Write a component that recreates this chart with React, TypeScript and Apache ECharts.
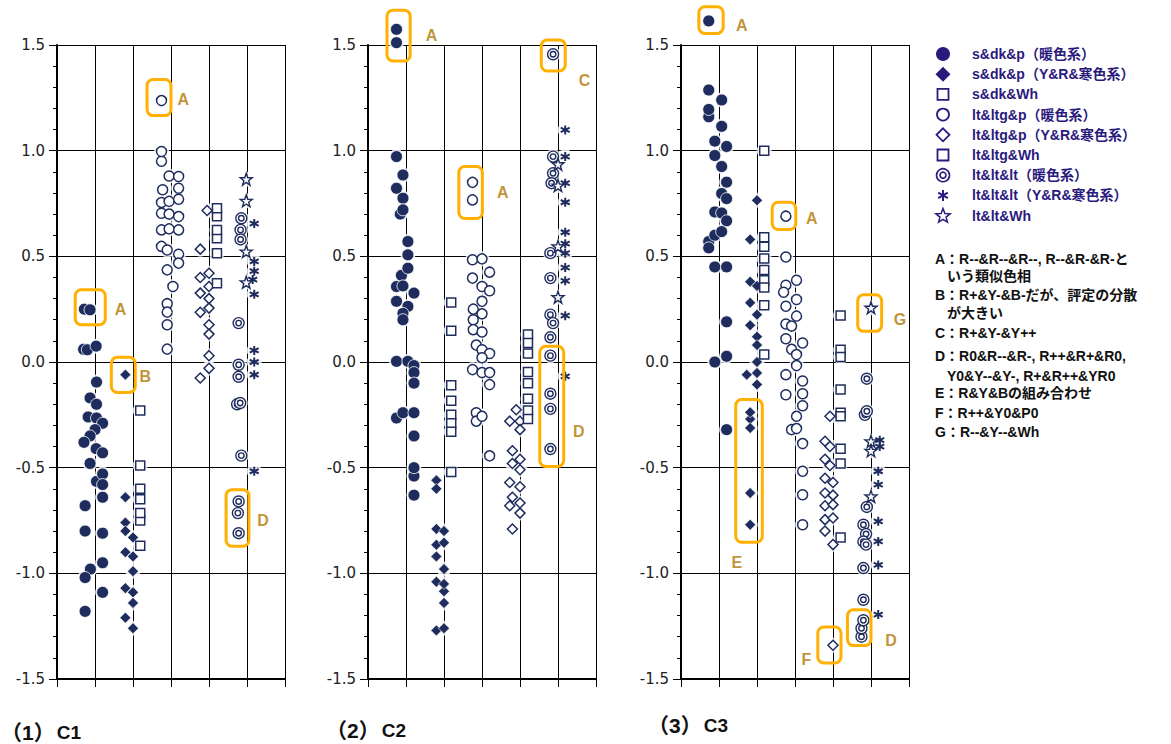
import React, { useEffect, useRef } from 'react';
import * as echarts from 'echarts';

// ---------- data (x = column position incl. jitter, y = score) ----------
// Panel (1) C1
const p1FilledCircle = [[0.72,0.25],[0.87,0.247],[0.7,0.06],[0.8,0.058],[1.03,0.075],[1.04,-0.095],[0.87,-0.17],[1.04,-0.2],[0.82,-0.26],[1.04,-0.265],[1.2,-0.29],[1.0,-0.32],[0.87,-0.35],[0.71,-0.38],[1.03,-0.41],[1.2,-0.43],[0.87,-0.48],[1.04,-0.565],[1.2,-0.53],[1.2,-0.58],[1.2,-0.64],[0.74,-0.68],[0.74,-0.8],[1.2,-0.81],[1.2,-0.95],[0.88,-0.98],[0.74,-1.02],[1.2,-1.09],[0.74,-1.18]];
const p1FilledDiamond = [[1.8,-0.06],[1.8,-0.64],[1.8,-0.76],[1.8,-0.8],[2.0,-0.83],[1.8,-0.9],[2.0,-0.92],[2.0,-0.99],[1.8,-1.07],[2.0,-1.09],[2.0,-1.14],[1.8,-1.21],[2.0,-1.26]];
const p1DarkWh = [[2.19,-0.23],[2.19,-0.49],[2.19,-0.6],[2.19,-0.75],[2.19,-0.65],[2.19,-0.715],[2.19,-0.87]];
const p1OpenCircle = [[2.75,1.237],[2.75,0.95],[2.75,0.996],[2.95,0.88],[3.2,0.878],[2.78,0.815],[3.2,0.822],[2.75,0.755],[2.95,0.76],[3.2,0.77],[2.75,0.704],[2.95,0.7],[3.2,0.688],[2.75,0.625],[2.95,0.63],[3.2,0.625],[2.75,0.547],[2.9,0.53],[3.2,0.51],[3.2,0.468],[2.9,0.436],[3.05,0.357],[2.9,0.276],[2.9,0.236],[2.9,0.176],[2.9,0.061]];
const p1OpenDiamond = [[3.95,0.717],[3.77,0.534],[3.77,0.4],[4.0,0.42],[3.77,0.326],[4.0,0.357],[4.0,0.3],[3.77,0.235],[4.0,0.255],[4.0,0.176],[4.0,0.132],[4.0,0.03],[4.0,-0.03],[3.77,-0.076]];
const p1LtgWh = [[4.21,0.69],[4.21,0.728],[4.21,0.585],[4.21,0.625],[4.21,0.515],[4.21,0.373]];
const p1Double = [[4.85,0.68],[4.83,0.625],[4.83,0.58],[4.78,0.184],[4.78,-0.013],[4.78,-0.07],[4.74,-0.2],[4.82,-0.194],[4.85,-0.443],[4.76,-0.715],[4.78,-0.66],[4.78,-0.81]];
const p1Asterisk = [[5.19,0.655],[5.19,0.476],[5.19,0.43],[5.15,0.39],[5.19,0.32],[5.19,0.055],[5.19,0.0],[5.19,-0.06],[5.19,-0.517]];
const p1Star = [[4.98,0.865],[4.98,0.763],[4.98,0.523],[4.98,0.377]];

// Panel (2) C2
const p2FilledCircle = [[0.75,1.574],[0.75,1.511],[0.75,0.972],[0.92,0.885],[0.75,0.822],[0.92,0.775],[0.85,0.7],[0.92,0.72],[1.05,0.57],[1.05,0.507],[0.88,0.41],[1.05,0.444],[0.75,0.357],[0.92,0.36],[1.21,0.326],[0.75,0.287],[1.05,0.263],[0.92,0.23],[0.92,0.2],[0.75,0.003],[1.05,0.003],[1.21,-0.017],[1.21,-0.05],[1.21,-0.1],[0.75,-0.265],[0.92,-0.24],[1.21,-0.24],[1.21,-0.35],[1.21,-0.54],[1.21,-0.5],[1.21,-0.63]];
const p2FilledDiamond = [[1.8,-0.56],[1.8,-0.6],[1.8,-0.79],[2.0,-0.8],[1.8,-0.865],[2.0,-0.855],[1.8,-0.92],[2.0,-0.98],[1.8,-1.04],[2.0,-1.085],[2.0,-1.05],[2.0,-1.14],[1.8,-1.27],[2.0,-1.26]];
const p2DarkWh = [[2.19,0.282],[2.19,0.148],[2.19,-0.11],[2.19,-0.183],[2.19,-0.25],[2.19,-0.29],[2.19,-0.33],[2.19,-0.52]];
const p2OpenCircle = [[2.75,0.85],[2.75,0.767],[2.75,0.484],[3.0,0.488],[2.75,0.397],[3.2,0.425],[3.0,0.357],[3.2,0.337],[2.77,0.25],[3.0,0.287],[2.77,0.2],[3.0,0.228],[2.77,0.153],[3.0,0.142],[2.85,0.08],[3.0,0.058],[3.2,0.04],[3.0,0.02],[2.75,-0.036],[3.0,-0.05],[3.2,-0.05],[3.2,-0.107],[2.85,-0.24],[2.85,-0.28],[3.0,-0.257],[3.2,-0.444]];
const p2OpenDiamond = [[3.9,-0.226],[3.73,-0.28],[4.0,-0.28],[4.0,-0.32],[3.8,-0.42],[4.0,-0.46],[3.8,-0.48],[4.0,-0.51],[3.73,-0.57],[4.0,-0.59],[3.8,-0.64],[4.0,-0.667],[3.73,-0.68],[4.0,-0.715],[3.8,-0.79]];
const p2LtgWh = [[4.21,0.13],[4.21,0.09],[4.21,0.04],[4.21,-0.047],[4.21,-0.1],[4.21,-0.174],[4.21,-0.23],[4.21,-0.27]];
const p2Double = [[4.87,1.456],[4.87,0.972],[4.87,0.893],[4.83,0.846],[4.8,0.515],[4.8,0.397],[4.8,0.224],[4.87,0.184],[4.8,0.117],[4.8,0.03],[4.8,-0.15],[4.8,-0.222],[4.8,-0.412]];
const p2Asterisk = [[5.19,1.098],[5.19,0.972],[5.19,0.846],[5.19,0.756],[5.19,0.614],[5.19,0.56],[5.19,0.515],[5.19,0.447],[5.19,0.384],[5.19,0.219],[5.19,-0.068]];
const p2Star = [[5.0,0.936],[5.0,0.835],[5.0,0.547],[5.0,0.307]];

// Panel (3) C3
const p3FilledCircle = [[0.73,1.614],[0.73,1.287],[1.07,1.24],[0.73,1.16],[0.73,1.195],[1.07,1.115],[0.89,1.045],[1.2,1.02],[0.89,0.977],[1.07,0.925],[1.2,0.851],[1.07,0.797],[1.2,0.773],[0.89,0.71],[1.07,0.705],[1.2,0.668],[0.73,0.57],[0.89,0.6],[1.07,0.617],[0.73,0.54],[0.89,0.45],[1.2,0.45],[1.2,0.19],[1.2,0.027],[0.89,0.0],[1.2,-0.32]];
const p3FilledDiamond = [[2.0,0.765],[1.82,0.58],[1.82,0.38],[2.0,0.36],[1.82,0.28],[2.0,0.224],[1.82,0.174],[2.0,0.12],[2.0,0.08],[2.0,0.0],[1.73,-0.06],[2.0,-0.052],[2.0,-0.107],[1.82,-0.27],[1.82,-0.238],[1.82,-0.312],[1.82,-0.62],[1.82,-0.77]];
const p3DarkWh = [[2.19,1.0],[2.19,0.59],[2.19,0.545],[2.19,0.435],[2.19,0.49],[2.19,0.387],[2.19,0.352],[2.19,0.268],[2.19,0.036]];
const p3OpenCircle = [[2.76,0.69],[2.76,0.497],[2.76,0.363],[3.04,0.387],[2.7,0.33],[2.76,0.264],[3.04,0.296],[2.76,0.18],[2.91,0.17],[3.04,0.217],[2.76,0.11],[2.91,0.06],[3.2,0.09],[3.04,0.035],[2.76,-0.06],[3.04,-0.017],[2.76,-0.155],[3.2,-0.09],[3.2,-0.15],[3.2,-0.207],[2.91,-0.32],[3.04,-0.257],[3.04,-0.315],[3.2,-0.386],[3.2,-0.517],[3.2,-0.628],[3.2,-0.77]];
const p3OpenDiamond = [[3.92,-0.257],[3.79,-0.375],[3.92,-0.4],[3.79,-0.46],[3.92,-0.49],[3.79,-0.55],[4.0,-0.57],[3.79,-0.62],[4.0,-0.63],[3.79,-0.68],[4.0,-0.675],[3.79,-0.746],[4.0,-0.738],[3.79,-0.8],[4.0,-0.864],[4.0,-1.34]];
const p3LtgWh = [[4.2,0.22],[4.2,0.058],[4.2,0.024],[4.2,-0.13],[4.2,-0.24],[4.2,-0.257],[4.2,-0.41],[4.2,-0.48],[4.2,-0.83]];
const p3Double = [[4.89,-0.079],[4.84,-0.25],[4.89,-0.233],[4.89,-0.686],[4.8,-0.77],[4.87,-0.814],[4.8,-0.85],[4.87,-0.864],[4.8,-0.975],[4.8,-1.125],[4.75,-1.3],[4.75,-1.26],[4.8,-1.222]];
const p3Asterisk = [[5.23,-0.37],[5.23,-0.4],[5.19,-0.517],[5.19,-0.58],[5.19,-0.754],[5.19,-0.849],[5.19,-0.96],[5.19,-1.195]];
const p3Star = [[5.0,0.257],[5.0,-0.375],[5.0,-0.42],[5.0,-0.636]];

// annotation boxes [x1, yTop, x2, yBottom] and their letters [letter, x, y]
const p1Boxes = [[2.37,1.337,3.0,1.166],[0.48,0.342,1.27,0.176],[1.43,0.022,2.06,-0.144],[4.45,-0.604,5.05,-0.872]];
const p1Letters = [['A',3.32,1.24],['A',1.67,0.247],['B',2.32,-0.068],['D',5.42,-0.75]];
const p2Boxes = [[0.5,1.665,1.11,1.424],[2.39,0.925,3.01,0.679],[4.56,1.524,5.19,1.377],[4.52,0.074,5.15,-0.494]];
const p2Letters = [['A',1.67,1.547],['A',3.55,0.8],['C',5.7,1.33],['D',5.55,-0.328]];
const p3Boxes = [[0.47,1.681,1.11,1.555],[2.4,0.756,3.02,0.627],[4.65,0.318,5.28,0.145],[1.44,-0.178,2.14,-0.853],[3.6,-1.254,4.21,-1.424],[4.38,-1.172,5.0,-1.342]];
const p3Letters = [['A',1.6,1.59],['A',3.44,0.678],['G',5.76,0.2],['E',1.47,-0.95],['F',3.3,-1.41],['D',5.53,-1.317]];

const panelNumbers = ['（1）', '（2）', '（3）'];
const panelNames = ['C1', 'C2', 'C3'];
const legendLabels = ['s&dk&p（暖色系）','s&dk&p（Y&R&寒色系）','s&dk&Wh','lt&ltg&p（暖色系）','lt&ltg&p（Y&R&寒色系）','lt&ltg&Wh','lt&lt&lt（暖色系）','lt&lt&lt（Y&R&寒色系）','lt&lt&Wh'];
const noteLines = [
  ['A：R--&R--&R--, R--&R-&R-と', false],
  ['いう類似色相', true],
  ['B：R+&Y-&B-だが、評定の分散', false],
  ['が大きい', true],
  ['C：R+&Y-&Y++', false],
  ['D：R0&R--&R-, R++&R+&R0,', false],
  ['Y0&Y--&Y-, R+&R++&YR0', true],
  ['E：R&Y&Bの組み合わせ', false],
  ['F：R++&Y0&P0', false],
  ['G：R--&Y--&Wh', false],
];

const yMin = -1.5, yMax = 1.5, yStep = 0.5;
const xMin = 0, xMax = 6, xStep = 1;

// ---------- styles ----------
const NAVY = '#1f2d5e';
const LEG = '#2b1a7d';
const ORANGE = '#ffb000';
const LETTER = '#b07800';
const FAMILY = '"Liberation Sans", "Noto Sans CJK JP", sans-serif';

const DOUBLE_PATH = 'path://M0,10A10,10 0 1,1 20,10A10,10 0 1,1 0,10ZM5,10A5,5 0 1,1 15,10A5,5 0 1,1 5,10Z';
const AST_PATH = 'path://M5,0L5,10M0.67,2.5L9.33,7.5M0.67,7.5L9.33,2.5';
const STAR_PATH = 'path://M50,2L61.8,36L97.6,36.6L69,58.2L79.4,92.4L50,72L20.6,92.4L31,58.2L2.4,36.6L38.2,36Z';

const markerDefs = [
  { key: 'fc', symbol: 'circle', size: 12, color: NAVY, border: '#ffffff', bw: 0.8 },
  { key: 'fd', symbol: 'diamond', size: 11, color: NAVY, border: '#ffffff', bw: 0.6 },
  { key: 'dw', symbol: 'rect', size: 9, color: '#ffffff', border: NAVY, bw: 1.5 },
  { key: 'oc', symbol: 'circle', size: 10, color: '#ffffff', border: NAVY, bw: 1.5 },
  { key: 'od', symbol: 'diamond', size: 10, color: '#ffffff', border: NAVY, bw: 1.5 },
  { key: 'lw', symbol: 'rect', size: 9, color: '#ffffff', border: NAVY, bw: 1.5 },
  { key: 'dc', symbol: DOUBLE_PATH, size: 11, color: '#ffffff', border: NAVY, bw: 1.4 },
  { key: 'ast', symbol: AST_PATH, size: 9, color: NAVY, border: NAVY, bw: 2 },
  { key: 'star', symbol: STAR_PATH, size: 12, color: '#ffffff', border: NAVY, bw: 1.4 },
];

const panels = [
  { fc: p1FilledCircle, fd: p1FilledDiamond, dw: p1DarkWh, oc: p1OpenCircle, od: p1OpenDiamond, lw: p1LtgWh, dc: p1Double, ast: p1Asterisk, star: p1Star, boxes: p1Boxes, letters: p1Letters },
  { fc: p2FilledCircle, fd: p2FilledDiamond, dw: p2DarkWh, oc: p2OpenCircle, od: p2OpenDiamond, lw: p2LtgWh, dc: p2Double, ast: p2Asterisk, star: p2Star, boxes: p2Boxes, letters: p2Letters },
  { fc: p3FilledCircle, fd: p3FilledDiamond, dw: p3DarkWh, oc: p3OpenCircle, od: p3OpenDiamond, lw: p3LtgWh, dc: p3Double, ast: p3Asterisk, star: p3Star, boxes: p3Boxes, letters: p3Letters },
];

const gridLefts = [57, 368, 681];

function buildOption() {
  const grid: any[] = [];
  const xAxis: any[] = [];
  const yAxis: any[] = [];
  const series: any[] = [];
  panels.forEach((p: any, i) => {
    grid.push({ left: gridLefts[i], top: 45, width: 228, height: 634 });
    xAxis.push({
      type: 'value', gridIndex: i, min: xMin, max: xMax, interval: xStep,
      axisLine: { show: true, onZero: false, lineStyle: { color: '#000', width: 2 } },
      axisTick: { show: true, length: 8, lineStyle: { color: '#000', width: 1 } },
      axisLabel: { show: false },
      splitLine: { show: true, lineStyle: { color: '#000', width: 1 } },
    });
    yAxis.push({
      type: 'value', gridIndex: i, min: yMin, max: yMax, interval: yStep,
      axisLine: { show: true, onZero: false, lineStyle: { color: '#000', width: 2 } },
      axisTick: { show: true, length: 8, lineStyle: { color: '#000', width: 1 } },
      minorTick: { show: true, splitNumber: 5, length: 4, lineStyle: { color: '#000', width: 1 } },
      axisLabel: { show: true, margin: 12, fontSize: 15, color: '#222', fontFamily: '"DejaVu Sans", sans-serif', formatter: (v: number) => v.toFixed(1) },
      splitLine: { show: true, lineStyle: { color: '#000', width: 1 } },
    });
    // white halo behind markers (breaks grid lines like the original)
    const all: number[][] = [];
    markerDefs.forEach((m) => all.push(...p[m.key]));
    series.push({
      type: 'scatter', xAxisIndex: i, yAxisIndex: i, data: all, symbol: 'circle', symbolSize: 15,
      itemStyle: { color: '#ffffff' }, z: 2, silent: true, clip: false,
    });
    markerDefs.forEach((m) => {
      series.push({
        type: 'scatter', name: m.key, xAxisIndex: i, yAxisIndex: i, data: p[m.key],
        symbol: m.symbol, symbolSize: m.size, clip: false, z: 3,
        itemStyle: { color: m.color, borderColor: m.border, borderWidth: m.bw, opacity: 1 },
      });
    });
    series.push({
      type: 'custom', xAxisIndex: i, yAxisIndex: i, data: p.boxes, clip: false, z: 5,
      renderItem: (params: any, api: any) => {
        const a = api.coord([api.value(0), api.value(1)]);
        const b = api.coord([api.value(2), api.value(3)]);
        return {
          type: 'rect',
          shape: { x: a[0], y: a[1], width: b[0] - a[0], height: b[1] - a[1], r: 6 },
          style: { fill: 'none', stroke: ORANGE, lineWidth: 3 },
        };
      },
    });
    series.push({
      type: 'scatter', xAxisIndex: i, yAxisIndex: i, clip: false, z: 6, silent: true,
      symbol: 'circle', symbolSize: 1, itemStyle: { color: 'rgba(0,0,0,0)' },
      data: p.letters.map((l: any) => ({ name: l[0], value: [l[1], l[2]] })),
      label: { show: true, position: 'inside', formatter: '{b}', color: LETTER, fontSize: 16, fontWeight: 'bold', fontFamily: FAMILY },
    });
  });

  const graphic: any[] = [];
  const titlePos = [[1, 732], [326, 730], [648, 725]];
  panelNumbers.forEach((t, i) => {
    graphic.push({
      type: 'text', x: titlePos[i][0], y: titlePos[i][1],
      style: {
        text: '{a|' + t + '}{b|' + panelNames[i] + '}',
        verticalAlign: 'middle', fill: '#111',
        rich: {
          a: { fontSize: 21, fontWeight: 'bold', fontFamily: FAMILY, fill: '#111', lineHeight: 18 },
          b: { fontSize: 19, fontWeight: 'bold', fontFamily: FAMILY, fill: '#111', lineHeight: 18, padding: [0, 0, 0, 2] },
        },
      },
    });
  });
  // legend
  const lx = 943, tx = 972;
  legendLabels.forEach((lab, k) => {
    const cy = 54 + k * 20.2;
    const st = { fill: '#fff', stroke: LEG, lineWidth: 1.8 };
    let sym: any;
    switch (k) {
      case 0: sym = { type: 'circle', shape: { cx: lx, cy, r: 7 }, style: { fill: LEG } }; break;
      case 1: sym = { type: 'polygon', shape: { points: [[lx, cy - 7.5], [lx + 7.5, cy], [lx, cy + 7.5], [lx - 7.5, cy]] }, style: { fill: LEG } }; break;
      case 2: case 5: sym = { type: 'rect', shape: { x: lx - 5.5, y: cy - 5.5, width: 11, height: 11 }, style: st }; break;
      case 3: sym = { type: 'circle', shape: { cx: lx, cy, r: 6 }, style: st }; break;
      case 4: sym = { type: 'polygon', shape: { points: [[lx, cy - 6.5], [lx + 6.5, cy], [lx, cy + 6.5], [lx - 6.5, cy]] }, style: st }; break;
      case 6: sym = { type: 'group', children: [
        { type: 'circle', shape: { cx: lx, cy, r: 6.5 }, style: { ...st, lineWidth: 1.6 } },
        { type: 'circle', shape: { cx: lx, cy, r: 3 }, style: { ...st, lineWidth: 1.6 } }] }; break;
      case 7: sym = { type: 'group', children: [
        { type: 'line', shape: { x1: lx, y1: cy - 5.5, x2: lx, y2: cy + 5.5 }, style: { stroke: LEG, lineWidth: 2 } },
        { type: 'line', shape: { x1: lx - 4.8, y1: cy - 2.75, x2: lx + 4.8, y2: cy + 2.75 }, style: { stroke: LEG, lineWidth: 2 } },
        { type: 'line', shape: { x1: lx - 4.8, y1: cy + 2.75, x2: lx + 4.8, y2: cy - 2.75 }, style: { stroke: LEG, lineWidth: 2 } }] }; break;
      default: {
        const pts: number[][] = [];
        for (let j = 0; j < 10; j++) {
          const ang = -Math.PI / 2 + j * Math.PI / 5;
          const r = j % 2 === 0 ? 7.5 : 3.2;
          pts.push([lx + r * Math.cos(ang), cy + 0.5 + r * Math.sin(ang)]);
        }
        sym = { type: 'polygon', shape: { points: pts }, style: { ...st, lineWidth: 1.5 } };
      }
    }
    graphic.push(sym);
    graphic.push({ type: 'text', x: tx, y: cy, style: { text: lab, fontSize: 14, fontWeight: 'bold', fontFamily: FAMILY, fill: LEG, verticalAlign: 'middle' } });
  });
  const noteY = [259, 276, 295, 313, 333, 356, 376, 393, 413, 432];
  noteLines.forEach((n: any, k) => {
    graphic.push({ type: 'text', x: n[1] ? 947 : 935, y: noteY[k], style: { text: n[0], fontSize: 14, fontWeight: 'bold', fontFamily: FAMILY, fill: '#111', verticalAlign: 'middle' } });
  });

  return { animation: false, backgroundColor: '#ffffff', grid, xAxis, yAxis, series, graphic };
}

export default function App() {
  const ref = useRef<HTMLDivElement>(null);
  useEffect(() => {
    if (!ref.current) return;
    const chart = echarts.init(ref.current, undefined, { renderer: 'svg' });
    chart.setOption(buildOption() as any);
    return () => chart.dispose();
  }, []);
  return <div ref={ref} style={{ width: 1171, height: 744, position: 'absolute', left: 0, top: 0 }} />;
}
